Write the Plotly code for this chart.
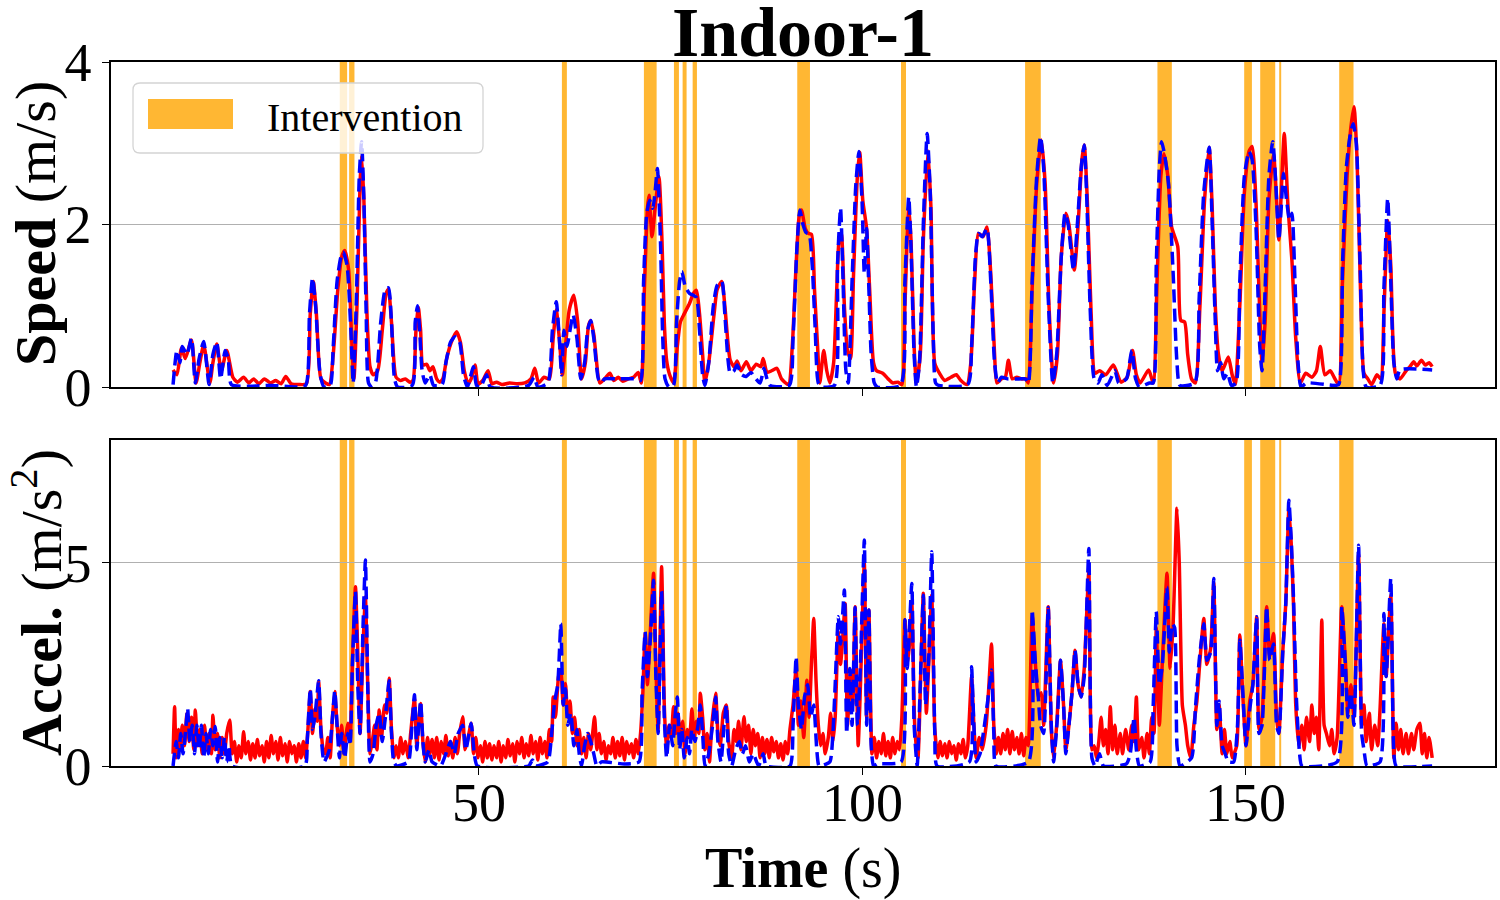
import plotly.graph_objects as go

# ---------------- data ----------------
span_start = [31.85, 33.07, 60.84, 71.54, 75.46, 76.59, 77.90, 91.55, 105.09, 121.28,
              138.55, 149.87, 151.96, 154.44, 162.27]
span_end = [32.81, 33.77, 61.49, 73.20, 76.11, 77.11, 78.46, 93.21, 105.74, 123.33,
            140.43, 150.88, 153.92, 154.70, 164.14]

spd_red_t = [
    10.1, 10.6, 11.2, 11.7, 12.5, 13.1, 13.6, 14.1, 14.9, 15.3,
    15.8, 16.4, 17.1, 17.9, 18.5, 19.3, 20.0, 20.6, 21.3, 22.0,
    22.8, 23.5, 24.2, 24.8, 25.5, 26.5, 27.5, 28.0, 28.4, 28.8,
    29.4, 30.0, 30.5, 31.0, 31.6, 32.1, 32.5, 33.0, 33.4, 33.7,
    34.1, 34.5, 34.7, 35.0, 35.4, 35.8, 36.2, 36.8, 37.4, 37.9,
    38.2, 38.6, 39.2, 39.8, 40.4, 41.0, 41.4, 41.8, 42.1, 42.4,
    42.7, 43.2, 43.6, 44.0, 44.5, 44.9, 45.3, 45.8, 46.4, 47.1,
    47.6, 48.1, 48.6, 49.0, 49.5, 49.9, 50.5, 51.2, 51.7, 52.3,
    53.0, 54.0, 55.0, 56.0, 56.8, 57.3, 57.8, 58.5, 59.2, 59.7,
    60.1, 60.5, 60.9, 61.3, 61.8, 62.4, 62.9, 63.4, 63.9, 64.3,
    64.6, 65.0, 65.8, 66.4, 67.1, 67.6, 68.2, 68.8, 69.5, 70.2,
    70.8, 71.2, 71.6, 72.0, 72.2, 72.6, 73.0, 73.5, 73.9, 74.2,
    74.5, 74.9, 75.4, 75.9, 76.3, 76.8, 77.5, 78.0, 78.4, 78.8,
    79.2, 79.5, 80.0, 80.7, 81.1, 81.7, 82.1, 82.5, 82.8, 83.3,
    83.7, 84.2, 84.9, 85.5, 86.2, 86.8, 87.1, 87.6, 88.2, 88.9,
    89.5, 90.4, 90.9, 91.4, 91.8, 92.1, 92.6, 93.0, 93.4, 93.8,
    94.2, 94.5, 95.0, 95.4, 95.8, 96.3, 96.7, 97.0, 97.3, 97.7,
    98.1, 98.5, 98.9, 99.4, 99.7, 100.1, 100.6, 101.0, 101.5, 101.9,
    102.7, 103.4, 104.0, 104.7, 105.2, 105.6, 106.1, 106.4, 106.8, 107.1,
    107.6, 108.0, 108.6, 109.0, 109.5, 110.1, 110.8, 111.6, 112.3, 112.9,
    113.7, 114.2, 114.7, 115.2, 115.8, 116.3, 116.8, 117.3, 117.6, 118.2,
    118.7, 119.1, 119.6, 120.2, 120.8, 121.4, 121.7, 122.2, 122.8, 123.4,
    123.9, 124.4, 125.0, 125.5, 126.0, 126.6, 127.0, 127.7, 128.2, 128.7,
    129.0, 129.4, 129.9, 130.4, 131.0, 131.8, 132.8, 133.8, 134.6, 135.3,
    135.8, 136.3, 137.4, 138.0, 138.5, 139.0, 139.4, 139.9, 140.4, 141.2,
    141.6, 142.1, 142.5, 143.0, 143.5, 144.1, 144.7, 145.3, 145.7, 146.1,
    146.5, 147.0, 147.8, 148.3, 148.7, 149.3, 149.9, 150.5, 150.9, 151.4,
    151.8, 152.2, 152.6, 153.1, 153.7, 154.1, 154.4, 154.8, 155.1, 155.6,
    156.1, 156.6, 157.2, 157.9, 158.7, 159.3, 159.8, 160.4, 161.1, 161.6,
    162.2, 162.7, 163.3, 163.8, 164.2, 164.6, 165.1, 165.5, 166.0, 166.5,
    167.2, 167.7, 168.1, 168.6, 169.0, 169.6, 170.2, 171.0, 171.5, 172.0,
    172.4, 173.0, 173.5, 174.0, 174.4]
spd_red_v = [
    0.21, 0.15, 0.48, 0.35, 0.58, 0.05, 0.30, 0.52, 0.05, 0.30,
    0.53, 0.20, 0.45, 0.12, 0.06, 0.12, 0.05, 0.10, 0.04, 0.10,
    0.05, 0.08, 0.04, 0.13, 0.04, 0.03, 0.04, 0.90, 1.30, 0.90,
    0.10, 0.05, 0.03, 0.40, 1.20, 1.60, 1.68, 1.45, 0.60, 0.10,
    1.00, 2.50, 2.85, 2.30, 0.90, 0.25, 0.15, 0.20, 0.70, 1.15,
    1.20, 0.80, 0.12, 0.08, 0.10, 0.06, 0.08, 0.70, 0.98, 0.70,
    0.27, 0.28, 0.20, 0.25, 0.10, 0.06, 0.10, 0.35, 0.55, 0.68,
    0.55, 0.20, 0.04, 0.10, 0.27, 0.04, 0.08, 0.20, 0.04, 0.06,
    0.03, 0.05, 0.04, 0.05, 0.10, 0.23, 0.05, 0.12, 0.10, 0.60,
    0.95, 0.60, 0.15, 0.50, 0.95, 1.13, 0.80, 0.10, 0.30, 0.75,
    0.82, 0.65, 0.05, 0.10, 0.17, 0.08, 0.12, 0.07, 0.10, 0.12,
    0.18, 0.05, 1.20, 2.20, 2.36, 1.85, 2.20, 2.59, 1.80, 0.80,
    0.33, 0.15, 0.05, 0.50, 0.80, 0.90, 1.03, 1.15, 1.19, 0.90,
    0.40, 0.05, 0.30, 0.90, 1.20, 1.30, 1.00, 0.55, 0.33, 0.25,
    0.32, 0.20, 0.31, 0.20, 0.28, 0.25, 0.35, 0.18, 0.20, 0.23,
    0.10, 0.03, 0.50, 1.50, 2.10, 2.18, 1.95, 1.89, 1.88, 1.20,
    0.50, 0.05, 0.45, 0.20, 0.05, 0.30, 1.20, 1.80, 1.89, 1.00,
    0.45, 0.35, 1.40, 2.60, 2.89, 2.30, 1.95, 1.20, 0.30, 0.20,
    0.17, 0.10, 0.05, 0.06, 0.03, 1.00, 2.22, 1.80, 0.50, 0.05,
    0.40, 1.80, 2.91, 2.20, 0.29, 0.17, 0.08, 0.12, 0.15, 0.08,
    0.03, 0.30, 1.30, 1.89, 1.85, 1.97, 1.40, 0.40, 0.05, 0.10,
    0.12, 0.33, 0.10, 0.12, 0.10, 0.10, 0.05, 1.20, 2.50, 3.04,
    2.50, 1.00, 0.05, 0.40, 1.60, 2.14, 2.00, 1.44, 2.00, 2.80,
    2.98, 2.30, 0.90, 0.17, 0.20, 0.15, 0.27, 0.06, 0.12, 0.45,
    0.15, 0.05, 0.21, 0.05, 1.30, 2.60, 2.87, 2.60, 1.97, 1.73,
    0.82, 0.80, 0.40, 0.10, 0.05, 1.00, 2.30, 2.95, 2.20, 1.00,
    0.41, 0.20, 0.37, 0.15, 0.03, 1.00, 2.40, 2.90, 2.96, 2.30,
    1.20, 0.30, 0.80, 2.30, 2.87, 2.30, 1.81, 2.60, 3.12, 2.20,
    1.56, 0.60, 0.05, 0.17, 0.12, 0.20, 0.50, 0.15, 0.20, 0.12,
    0.03, 1.30, 2.60, 3.20, 3.45, 2.80, 1.00, 0.17, 0.10, 0.03,
    0.15, 0.10, 0.90, 2.05, 1.50, 0.17, 0.10, 0.20, 0.25, 0.31,
    0.26, 0.33, 0.27, 0.30, 0.25]

spd_blue_t = [
    10.1, 10.6, 11.0, 11.3, 11.9, 12.5, 13.0, 13.5, 14.1, 14.8,
    15.3, 15.8, 16.3, 16.9, 17.3, 17.7, 20.0, 23.0, 26.0, 27.4,
    27.9, 28.3, 28.7, 29.3, 29.8, 30.6, 31.0, 31.5, 32.0, 32.3,
    32.8, 33.3, 33.6, 34.0, 34.4, 34.7, 35.0, 35.3, 35.6, 36.0,
    36.5, 37.2, 37.8, 38.2, 38.6, 39.0, 39.4, 41.3, 41.7, 42.0,
    42.3, 42.6, 43.0, 43.6, 44.1, 45.2, 45.7, 46.3, 46.9, 47.5,
    48.0, 48.5, 49.3, 49.7, 50.2, 51.0, 51.5, 56.5, 57.2, 57.7,
    59.0, 59.6, 60.1, 60.5, 60.8, 61.1, 61.5, 61.9, 62.3, 62.8,
    63.3, 63.8, 64.2, 64.6, 65.0, 65.6, 66.0, 66.4, 68.0, 70.5,
    71.1, 71.5, 71.9, 72.3, 72.7, 73.0, 73.3, 73.7, 74.0, 74.3,
    74.8, 75.4, 75.8, 76.2, 76.5, 76.9, 77.5, 78.0, 78.4, 78.8,
    79.2, 79.5, 80.0, 80.6, 81.1, 81.7, 82.1, 82.5, 82.8, 83.3,
    83.7, 84.3, 84.9, 85.5, 86.0, 86.7, 87.2, 87.6, 88.0, 90.5,
    91.0, 91.5, 91.9, 92.3, 92.7, 93.1, 93.5, 93.9, 94.3, 94.8,
    96.4, 96.8, 97.2, 97.5, 97.9, 98.2, 98.7, 99.2, 99.6, 100.0,
    100.3, 100.6, 100.9, 101.2, 101.6, 102.0, 105.0, 105.6, 106.1, 106.4,
    106.8, 107.1, 107.5, 108.0, 108.5, 108.9, 109.3, 109.6, 110.0, 113.8,
    114.3, 114.8, 115.2, 115.7, 116.3, 116.8, 117.3, 117.7, 118.2, 119.0,
    120.5, 121.3, 121.7, 122.2, 122.8, 123.3, 123.7, 124.3, 124.9, 125.4,
    126.0, 126.5, 126.9, 127.6, 128.1, 128.6, 129.0, 129.3, 129.8, 130.3,
    130.8, 131.3, 132.0, 133.0, 133.5, 134.5, 135.2, 135.7, 136.2, 137.5,
    138.0, 138.4, 138.8, 139.1, 139.5, 140.0, 140.6, 141.1, 141.5, 143.4,
    144.0, 144.6, 145.3, 145.7, 146.1, 146.4, 146.8, 147.2, 147.7, 148.2,
    148.8, 149.3, 149.9, 150.5, 150.9, 151.4, 151.9, 152.2, 152.6, 153.1,
    153.6, 154.0, 154.4, 154.7, 155.0, 155.4, 155.8, 156.1, 156.5, 156.9,
    157.3, 158.0, 161.5, 162.2, 162.7, 163.2, 163.7, 164.1, 164.5, 165.0,
    165.4, 165.8, 167.6, 168.1, 168.6, 169.0, 169.4, 169.8, 170.2, 174.4]
spd_blue_v = [
    0.03, 0.45, 0.30, 0.50, 0.40, 0.60, 0.05, 0.35, 0.56, 0.03,
    0.40, 0.55, 0.10, 0.45, 0.35, 0.03, 0.01, 0.02, 0.00, 0.02,
    0.90, 1.34, 1.00, 0.15, 0.00, 0.02, 0.50, 1.30, 1.60, 1.66,
    1.50, 0.70, 0.05, 1.00, 2.60, 3.02, 2.30, 0.90, 0.05, 0.00,
    0.05, 0.80, 1.20, 1.22, 0.80, 0.10, 0.00, 0.02, 0.80, 1.00,
    0.65, 0.20, 0.05, 0.15, 0.02, 0.03, 0.30, 0.55, 0.62, 0.55,
    0.15, 0.00, 0.25, 0.02, 0.00, 0.15, 0.00, 0.02, 0.12, 0.00,
    0.05, 0.70, 1.05, 0.60, 0.15, 0.70, 0.50, 0.70, 0.89, 0.60,
    0.10, 0.30, 0.70, 0.82, 0.60, 0.10, 0.05, 0.10, 0.10, 0.10,
    0.08, 1.30, 2.13, 2.30, 2.20, 2.40, 2.69, 1.80, 0.60, 0.10,
    0.00, 0.02, 0.80, 1.30, 1.42, 1.25, 1.15, 1.13, 1.10, 0.70,
    0.15, 0.02, 0.30, 1.00, 1.25, 1.30, 0.90, 0.35, 0.17, 0.20,
    0.27, 0.15, 0.13, 0.18, 0.12, 0.05, 0.23, 0.10, 0.02, 0.02,
    0.60, 1.70, 2.18, 2.00, 1.90, 1.88, 1.50, 0.70, 0.05, 0.00,
    0.02, 1.50, 2.20, 1.40, 0.20, 0.05, 1.30, 2.50, 2.90, 2.30,
    1.40, 1.95, 1.20, 0.40, 0.05, 0.00, 0.02, 1.30, 2.34, 1.70,
    0.40, 0.00, 0.30, 2.00, 3.12, 2.40, 0.60, 0.05, 0.02, 0.03,
    0.50, 1.60, 1.89, 1.85, 1.95, 1.30, 0.30, 0.05, 0.12, 0.10,
    0.10, 0.10, 0.05, 1.30, 2.60, 3.08, 2.70, 1.10, 0.05, 0.40,
    1.60, 2.14, 2.00, 1.44, 2.00, 2.70, 2.98, 2.40, 0.90, 0.10,
    0.05, 0.15, 0.02, 0.20, 0.05, 0.10, 0.45, 0.10, 0.00, 0.05,
    0.05, 1.50, 2.70, 3.02, 2.85, 2.50, 1.40, 0.30, 0.02, 0.05,
    1.10, 2.40, 2.95, 2.00, 0.80, 0.20, 0.30, 0.10, 0.17, 0.02,
    0.05, 1.30, 2.60, 2.90, 2.80, 2.00, 0.50, 0.20, 1.20, 2.60,
    3.02, 2.50, 1.81, 2.20, 2.63, 2.30, 2.05, 2.14, 1.30, 0.30,
    0.00, 0.05, 0.02, 0.03, 1.50, 2.70, 3.10, 3.24, 3.00, 1.50,
    0.20, 0.00, 0.02, 1.20, 2.32, 1.30, 0.30, 0.10, 0.21, 0.21]

acc_red_t = [
    10.1, 10.3, 10.5, 10.8, 11.0, 11.3, 11.6, 11.9, 12.2, 12.5,
    12.8, 13.0, 13.3, 13.6, 13.9, 14.2, 14.5, 14.8, 15.1, 15.3,
    15.6, 15.9, 16.2, 16.5, 16.8, 17.1, 17.5, 17.8, 18.1, 18.4,
    18.7, 19.0, 19.3, 19.6, 19.9, 20.2, 20.5, 20.8, 21.1, 21.4,
    21.7, 22.0, 22.3, 22.6, 22.9, 23.2, 23.5, 23.8, 24.1, 24.4,
    24.7, 25.0, 25.3, 25.6, 25.9, 26.2, 26.5, 26.8, 27.1, 27.4,
    27.7, 28.0, 28.3, 28.6, 28.9, 29.1, 29.4, 29.7, 30.0, 30.3,
    30.6, 30.9, 31.2, 31.5, 31.8, 32.1, 32.4, 32.7, 32.9, 33.2,
    33.5, 33.9, 34.2, 34.5, 34.9, 35.2, 35.5, 35.8, 36.1, 36.4,
    36.7, 37.0, 37.3, 37.7, 38.0, 38.3, 38.6, 38.9, 39.2, 39.5,
    39.8, 40.1, 40.4, 40.8, 41.1, 41.6, 41.9, 42.2, 42.4, 42.7,
    43.0, 43.3, 43.6, 43.9, 44.2, 44.5, 44.8, 45.1, 45.4, 45.7,
    46.0, 46.3, 46.6, 46.9, 47.2, 47.5, 47.9, 48.2, 48.5, 49.0,
    49.3, 49.6, 49.9, 50.2, 50.5, 50.8, 51.1, 51.4, 51.7, 52.0,
    52.3, 52.6, 52.9, 53.2, 53.5, 53.8, 54.1, 54.4, 54.7, 55.0,
    55.3, 55.6, 55.9, 56.2, 56.5, 56.8, 57.1, 57.4, 57.7, 58.0,
    58.3, 58.6, 58.9, 59.2, 59.5, 59.7, 60.0, 60.4, 60.7, 61.0,
    61.3, 61.6, 61.9, 62.2, 62.5, 62.8, 63.1, 63.4, 63.7, 64.0,
    64.3, 64.6, 65.1, 65.4, 65.7, 66.0, 66.3, 66.6, 66.9, 67.2,
    67.5, 67.8, 68.1, 68.4, 68.7, 69.0, 69.3, 69.6, 69.9, 70.2,
    70.5, 70.8, 71.1, 71.4, 71.7, 72.0, 72.3, 72.8, 73.1, 73.4,
    73.85, 74.2, 74.5, 74.8, 75.1, 75.4, 75.7, 76.0, 76.3, 76.6,
    76.9, 77.2, 77.5, 77.8, 78.1, 78.4, 78.7, 78.9, 79.2, 79.5,
    79.8, 80.1, 80.4, 80.9, 81.2, 81.5, 81.9, 82.3, 82.6, 83.0,
    83.3, 83.6, 83.9, 84.2, 84.6, 84.9, 85.2, 85.5, 85.8, 86.1,
    86.4, 86.7, 87.0, 87.3, 87.6, 87.9, 88.2, 88.5, 88.8, 89.1,
    89.4, 89.7, 90.0, 90.3, 90.6, 91.0, 91.4, 91.7, 92.0, 92.4,
    92.8, 93.1, 93.4, 93.7, 94.0, 94.3, 94.6, 94.9, 95.2, 95.6,
    95.9, 96.2, 96.5, 96.9, 97.2, 97.5, 97.8, 98.1, 98.5, 98.8,
    99.1, 99.5, 99.8, 100.3, 100.6, 100.9, 101.3, 101.6, 101.9, 102.2,
    102.5, 102.8, 103.1, 103.4, 103.7, 104.0, 104.3, 104.6, 104.9, 105.2,
    105.6, 105.9, 106.2, 106.5, 106.9, 107.3, 107.7, 108.0, 108.4, 108.7,
    109.1, 109.5, 109.9, 110.2, 110.5, 110.8, 111.1, 111.4, 111.7, 112.0,
    112.3, 112.6, 112.9, 113.2, 113.5, 113.8, 114.3, 114.6, 114.9, 115.3,
    115.7, 116.2, 116.5, 116.9, 117.2, 117.5, 117.8, 118.1, 118.4, 118.7,
    119.0, 119.3, 119.6, 119.9, 120.2, 120.5, 120.8, 121.1, 121.4, 121.7,
    122.2, 122.6, 123.0, 123.4, 123.7, 124.3, 124.7, 125.0, 125.4, 125.9,
    126.3, 126.6, 127.0, 127.4, 127.8, 128.2, 128.6, 129.0, 129.6, 130.0,
    130.3, 130.6, 130.9, 131.2, 131.5, 131.8, 132.1, 132.4, 132.7, 133.0,
    133.3, 133.7, 134.0, 134.4, 134.8, 135.2, 135.5, 135.8, 136.1, 136.5,
    136.8, 137.2, 137.5, 137.8, 138.1, 138.4, 138.8, 139.2, 139.8, 140.2,
    140.6, 141.1, 141.4, 141.8, 142.2, 142.5, 142.9, 143.3, 143.7, 144.1,
    144.6, 145.0, 145.5, 145.9, 146.3, 146.6, 147.0, 147.3, 147.6, 148.0,
    148.3, 148.9, 149.3, 149.7, 150.1, 150.6, 151.0, 151.5, 151.8, 152.2,
    152.8, 153.2, 153.7, 154.1, 154.4, 154.9, 155.3, 155.7, 156.0, 156.3,
    156.6, 157.0, 157.4, 157.7, 158.0, 158.4, 158.7, 159.0, 159.3, 159.6,
    160.0, 160.3, 160.6, 161.0, 161.3, 161.6, 162.0, 162.6, 163.1, 163.4,
    163.8, 164.2, 164.8, 165.2, 165.5, 165.8, 166.2, 166.5, 166.9, 167.3,
    167.6, 168.1, 168.4, 169.0, 169.4, 169.7, 170.0, 170.3, 170.6, 171.0,
    171.3, 171.7, 172.0, 172.4, 172.8, 173.1, 173.4, 173.7, 174.0, 174.4]
acc_red_v = [
    0.30, 1.46, 0.20, 0.90, 0.40, 1.00, 0.50, 1.30, 0.60, 1.20,
    0.40, 1.38, 0.50, 0.90, 0.30, 1.00, 0.40, 0.80, 0.30, 1.25,
    0.40, 0.80, 0.20, 0.70, 0.30, 0.80, 1.13, 0.30, 0.60, 0.10,
    0.50, 0.20, 0.84, 0.30, 0.60, 0.15, 0.55, 0.20, 0.65, 0.25,
    0.50, 0.10, 0.60, 0.20, 0.75, 0.30, 0.60, 0.15, 0.70, 0.25,
    0.55, 0.10, 0.60, 0.30, 0.50, 0.10, 0.55, 0.20, 0.60, 0.20,
    0.90, 1.83, 0.80, 1.40, 1.10, 2.07, 0.90, 0.40, 0.30, 0.70,
    0.20, 1.20, 1.83, 1.00, 0.50, 1.00, 0.30, 0.80, 1.05, 0.60,
    2.50, 4.41, 2.80, 0.80, 3.00, 4.16, 2.00, 0.30, 0.60, 1.00,
    0.40, 1.38, 0.70, 1.50, 1.30, 2.16, 0.90, 0.20, 0.50, 0.20,
    0.70, 0.30, 0.60, 0.20, 0.80, 1.66, 0.50, 1.20, 1.54, 0.60,
    0.10, 0.70, 0.30, 0.65, 0.20, 0.70, 0.15, 0.60, 0.30, 0.75,
    0.25, 0.60, 0.20, 0.70, 0.30, 0.80, 1.21, 0.40, 0.60, 1.05,
    0.30, 0.70, 0.20, 0.50, 0.10, 0.60, 0.20, 0.55, 0.15, 0.50,
    0.20, 0.60, 0.10, 0.50, 0.20, 0.65, 0.25, 0.55, 0.10, 0.60,
    0.30, 0.70, 0.20, 0.55, 0.25, 0.75, 0.30, 0.60, 0.15, 0.70,
    0.30, 0.60, 0.20, 0.90, 0.60, 1.70, 1.20, 2.20, 2.36, 1.50,
    2.03, 1.20, 1.60, 0.80, 1.20, 0.50, 0.90, 0.30, 0.70, 0.20,
    0.80, 0.40, 1.21, 0.40, 0.80, 0.30, 0.60, 0.15, 0.50, 0.30,
    0.70, 0.20, 0.60, 0.25, 0.70, 0.15, 0.60, 0.30, 0.55, 0.20,
    0.65, 0.30, 0.80, 1.80, 3.26, 2.00, 3.00, 4.74, 2.50, 0.90,
    4.90, 1.50, 0.30, 1.00, 0.70, 1.46, 0.80, 1.30, 0.60, 1.10,
    0.30, 0.90, 0.70, 1.40, 0.70, 1.10, 0.80, 1.79, 1.20, 0.40,
    0.80, 0.10, 1.00, 1.79, 0.80, 0.50, 1.30, 1.50, 0.60, 0.20,
    0.90, 0.60, 1.10, 0.40, 1.21, 0.60, 1.00, 0.30, 0.90, 0.50,
    0.80, 0.20, 0.70, 0.30, 0.65, 0.20, 0.70, 0.35, 0.60, 0.20,
    0.55, 0.15, 0.60, 0.30, 0.90, 1.50, 2.40, 1.00, 1.60, 0.70,
    2.11, 1.20, 2.50, 3.63, 2.10, 1.00, 0.50, 0.80, 0.30, 0.70,
    1.30, 0.60, 1.20, 3.30, 2.50, 3.20, 4.00, 1.00, 2.35, 1.50,
    3.92, 0.50, 2.00, 5.00, 1.20, 3.84, 0.30, 0.70, 0.20, 0.60,
    0.30, 0.80, 0.25, 0.60, 0.20, 0.70, 0.30, 0.60, 0.40, 1.20,
    3.60, 2.50, 3.00, 4.00, 0.90, 0.20, 2.50, 4.25, 1.30, 2.50,
    4.20, 0.90, 0.20, 0.60, 0.25, 0.55, 0.20, 0.60, 0.30, 0.50,
    0.15, 0.55, 0.30, 0.65, 0.20, 0.50, 2.20, 1.00, 0.20, 0.70,
    0.40, 1.00, 1.80, 3.00, 1.00, 0.30, 0.70, 0.30, 0.80, 0.40,
    0.90, 0.30, 0.85, 0.40, 0.70, 0.30, 0.80, 0.25, 0.70, 0.50,
    3.70, 2.60, 1.70, 1.80, 1.00, 3.92, 0.90, 0.20, 1.00, 2.60,
    1.50, 0.40, 1.00, 1.80, 2.85, 2.00, 1.70, 2.40, 4.80, 0.40,
    0.50, 0.20, 0.60, 1.20, 0.50, 0.90, 0.30, 1.46, 0.40, 1.00,
    0.30, 0.80, 0.30, 0.90, 0.40, 1.00, 0.60, 1.70, 0.40, 0.70,
    0.20, 0.80, 0.30, 1.20, 0.80, 3.40, 1.00, 2.60, 4.74, 2.40,
    3.50, 6.34, 5.00, 1.50, 1.00, 0.50, 0.20, 1.00, 1.60, 2.60,
    3.63, 2.50, 2.90, 4.50, 0.90, 1.50, 0.30, 0.90, 0.30, 0.60,
    0.20, 0.50, 3.22, 1.70, 0.50, 1.60, 2.00, 3.67, 0.90, 1.20,
    3.92, 2.70, 3.26, 1.20, 0.80, 2.80, 4.00, 6.30, 5.50, 4.00,
    1.50, 0.50, 1.00, 0.40, 1.20, 0.60, 1.50, 0.80, 1.20, 0.40,
    3.59, 1.00, 0.80, 0.50, 0.90, 0.30, 0.70, 3.92, 2.50, 1.30,
    2.00, 1.20, 5.20, 1.00, 1.50, 0.60, 1.30, 0.40, 1.00, 0.50,
    1.40, 3.50, 2.20, 4.20, 0.20, 1.05, 0.40, 0.90, 0.30, 0.80,
    0.30, 0.80, 0.40, 0.90, 1.05, 0.30, 0.80, 0.20, 0.70, 0.20]

acc_blue_t = [
    10.1, 10.5, 10.8, 11.1, 11.4, 11.8, 12.0, 12.3, 12.6, 12.9,
    13.2, 13.5, 13.8, 14.1, 14.4, 14.7, 15.0, 15.3, 15.6, 15.9,
    16.2, 16.5, 16.8, 17.1, 17.4, 17.8, 27.3, 27.6, 28.0, 28.3,
    28.6, 29.1, 29.4, 29.8, 30.5, 30.9, 31.2, 31.5, 31.8, 32.1,
    32.5, 32.9, 33.2, 33.5, 33.9, 34.2, 34.5, 34.9, 35.2, 35.5,
    35.8, 36.2, 36.6, 37.0, 37.4, 37.8, 38.3, 38.6, 38.9, 39.3,
    40.8, 41.2, 41.6, 41.9, 42.4, 42.7, 43.0, 43.5, 43.9, 45.0,
    45.7, 46.3, 46.8, 47.3, 47.9, 48.3, 49.0, 49.4, 49.8, 56.5,
    57.0, 57.4, 59.0, 59.5, 59.9, 60.3, 60.7, 61.0, 61.3, 61.6,
    62.0, 62.4, 62.8, 63.1, 63.4, 63.8, 64.2, 64.6, 65.0, 65.4,
    66.0, 69.0, 70.9, 71.3, 71.7, 72.0, 72.4, 72.8, 73.1, 73.4,
    73.85, 74.2, 74.5, 74.9, 75.3, 75.6, 75.9, 76.2, 76.5, 76.8,
    77.2, 77.5, 77.8, 78.2, 78.6, 78.9, 79.2, 79.5, 80.0, 80.5,
    80.9, 81.2, 81.6, 82.0, 82.3, 82.6, 83.0, 83.5, 84.0, 84.4,
    84.8, 85.3, 85.8, 86.5, 87.1, 87.5, 90.6, 91.0, 91.4, 91.7,
    92.1, 92.5, 92.9, 93.3, 93.7, 94.1, 94.4, 95.8, 96.2, 96.5,
    96.9, 97.2, 97.7, 98.0, 98.4, 98.7, 99.1, 99.4, 99.8, 100.3,
    100.6, 100.9, 101.2, 101.5, 102.0, 105.1, 105.6, 105.9, 106.5, 106.8,
    107.2, 107.6, 108.0, 108.3, 108.7, 109.1, 109.5, 109.8, 114.0, 114.3,
    114.6, 114.9, 115.4, 115.9, 116.4, 116.9, 117.2, 117.5, 121.7, 122.2,
    122.6, 123.0, 123.3, 123.7, 124.3, 124.7, 125.0, 125.5, 125.9, 126.3,
    126.6, 127.0, 127.4, 127.8, 128.2, 128.6, 129.0, 129.6, 130.0, 130.4,
    131.0, 131.5, 134.5, 135.0, 135.5, 135.8, 136.2, 137.6, 138.0, 138.4,
    138.8, 139.2, 139.8, 140.1, 140.5, 140.8, 141.1, 141.5, 143.0, 143.5,
    144.0, 144.6, 145.0, 145.5, 145.9, 146.3, 146.6, 147.0, 147.4, 147.8,
    148.5, 149.0, 149.3, 149.7, 150.1, 150.6, 151.0, 151.5, 151.8, 152.2,
    152.8, 153.2, 153.7, 154.1, 154.4, 154.9, 155.3, 155.7, 156.0, 156.3,
    156.7, 157.1, 157.4, 162.0, 162.6, 163.1, 163.4, 163.8, 164.2, 164.8,
    165.2, 165.5, 165.9, 167.6, 168.1, 168.4, 169.0, 169.4, 169.7, 174.4]
acc_blue_v = [
    0.00, 0.60, 0.20, 0.80, 0.30, 1.00, 1.42, 0.60, 1.00, 0.30,
    1.00, 0.40, 1.00, 0.20, 0.80, 0.30, 0.90, 0.50, 0.97, 0.10,
    0.70, 0.20, 0.70, 0.10, 0.50, 0.00, 0.00, 0.60, 1.90, 0.90,
    1.20, 2.10, 0.80, 0.10, 0.40, 1.20, 1.85, 1.00, 0.20, 0.80,
    0.20, 0.80, 0.50, 2.50, 4.30, 2.00, 0.80, 3.50, 5.07, 2.00,
    0.10, 0.30, 1.00, 1.30, 0.60, 1.20, 2.10, 0.80, 0.10, 0.00,
    0.10, 0.80, 1.75, 0.40, 1.60, 0.60, 0.10, 0.40, 0.10, 0.00,
    0.30, 0.60, 0.30, 0.80, 1.00, 0.40, 1.05, 0.30, 0.00, 0.00,
    0.15, 0.00, 0.10, 0.80, 1.60, 2.00, 3.50, 1.50, 1.90, 1.00,
    1.30, 0.50, 0.90, 0.30, 0.00, 0.50, 0.80, 0.60, 0.30, 0.00,
    0.10, 0.05, 0.10, 1.80, 3.30, 2.20, 3.20, 4.57, 2.20, 0.80,
    4.30, 1.20, 0.20, 1.00, 0.50, 1.20, 1.70, 0.40, 0.90, 0.20,
    0.70, 0.30, 0.90, 0.60, 1.00, 1.50, 0.80, 0.00, 0.30, 1.00,
    1.70, 0.60, 0.10, 1.00, 1.50, 0.30, 0.00, 0.40, 0.60, 0.30,
    0.50, 0.10, 0.30, 0.00, 0.30, 0.00, 0.00, 1.00, 2.69, 1.50,
    0.90, 1.70, 2.00, 1.20, 1.50, 0.40, 0.00, 0.10, 0.80, 2.00,
    3.67, 3.00, 4.33, 0.80, 2.40, 1.00, 3.90, 1.00, 2.50, 5.56,
    1.00, 3.84, 0.50, 0.00, 0.05, 0.10, 3.60, 2.40, 4.49, 1.00,
    0.00, 2.00, 4.20, 1.50, 2.60, 5.27, 0.80, 0.00, 0.10, 2.44,
    1.00, 0.10, 0.30, 0.90, 1.60, 2.36, 0.80, 0.00, 0.10, 3.84,
    2.60, 1.70, 1.00, 0.80, 3.90, 1.00, 0.10, 1.20, 2.60, 1.50,
    0.30, 1.00, 1.80, 2.85, 2.00, 1.70, 2.20, 5.35, 0.20, 0.00,
    0.30, 0.00, 0.05, 0.30, 1.20, 0.40, 0.00, 0.10, 1.50, 3.80,
    2.00, 2.50, 4.40, 2.80, 3.50, 3.40, 0.50, 0.00, 0.20, 1.40,
    2.60, 3.50, 2.60, 2.80, 4.61, 1.00, 1.60, 0.50, 0.30, 0.10,
    0.10, 1.00, 3.10, 1.80, 0.50, 1.40, 2.00, 3.67, 0.80, 1.00,
    3.92, 2.60, 3.00, 1.00, 0.80, 2.80, 4.00, 6.54, 5.60, 4.16,
    1.60, 0.30, 0.00, 0.10, 3.92, 2.40, 1.20, 1.80, 1.00, 5.43,
    0.80, 0.40, 0.00, 0.10, 3.75, 2.20, 4.61, 0.30, 0.00, 0.00]

x_ticks = [50, 100, 150]
speed_ticks = [0, 2, 4]
acc_ticks = [0, 5]

assert len(spd_red_t) == len(spd_red_v)
assert len(spd_blue_t) == len(spd_blue_v)
assert len(acc_red_t) == len(acc_red_v)
assert len(acc_blue_t) == len(acc_blue_v)

# ---------------- style ----------------
FONT = "Liberation Serif"
RED = "#ff0000"
BLUE = "#0000ff"
ORANGE = "rgba(255,165,0,0.8)"
LW = 3.5
DASH = "13px,6px"

# plot-area geometry (px) -> paper coordinates helpers
L, R, T, B = 111, 5, 62, 134
W, H = 1500, 900
PW, PH = W - L - R, H - T - B


def px_x(px):
    return (px - L) / PW


def px_y(py):
    return (H - B - py) / PH


fig = go.Figure()

fig.add_trace(go.Scatter(x=spd_red_t, y=spd_red_v, mode="lines", xaxis="x", yaxis="y",
                         line=dict(color=RED, width=LW, shape="spline", smoothing=0.6),
                         showlegend=False))
fig.add_trace(go.Scatter(x=spd_blue_t, y=spd_blue_v, mode="lines", xaxis="x", yaxis="y",
                         line=dict(color=BLUE, width=LW, dash=DASH, shape="spline", smoothing=0.6),
                         showlegend=False))
fig.add_trace(go.Scatter(x=acc_red_t, y=acc_red_v, mode="lines", xaxis="x2", yaxis="y2",
                         line=dict(color=RED, width=LW, shape="spline", smoothing=0.5),
                         showlegend=False))
fig.add_trace(go.Scatter(x=acc_blue_t, y=acc_blue_v, mode="lines", xaxis="x2", yaxis="y2",
                         line=dict(color=BLUE, width=LW, dash=DASH, shape="spline", smoothing=0.5),
                         showlegend=False))

shapes = []
for s, e in zip(span_start, span_end):
    for xr, yr in (("x", "y domain"), ("x2", "y2 domain")):
        shapes.append(dict(type="rect", xref=xr, yref=yr, x0=s, x1=e, y0=0, y1=1,
                           fillcolor=ORANGE, line=dict(width=0), layer="below"))

# legend box (matplotlib-like, rounded, semi-transparent)
lx0, lx1, ly0, ly1 = px_x(133), px_x(483), px_y(153), px_y(83)
rx, ry = 7 / PW, 7 / PH
path = (f"M {lx0+rx},{ly0} L {lx1-rx},{ly0} Q {lx1},{ly0} {lx1},{ly0+ry} "
        f"L {lx1},{ly1-ry} Q {lx1},{ly1} {lx1-rx},{ly1} L {lx0+rx},{ly1} "
        f"Q {lx0},{ly1} {lx0},{ly1-ry} L {lx0},{ly0+ry} Q {lx0},{ly0} {lx0+rx},{ly0} Z")
shapes.append(dict(type="path", xref="paper", yref="paper", path=path,
                   fillcolor="rgba(255,255,255,0.8)", line=dict(color="#d4d4d4", width=1.3),
                   layer="above"))
shapes.append(dict(type="rect", xref="paper", yref="paper", x0=px_x(148), x1=px_x(233),
                   y0=px_y(129), y1=px_y(99), fillcolor=ORANGE, line=dict(width=0),
                   layer="above"))

annotations = [
    dict(text="Intervention", xref="paper", yref="paper", x=px_x(265), y=px_y(117),
         xanchor="left", yanchor="middle", showarrow=False,
         font=dict(family=FONT, size=40, color="black")),
    dict(text="<b>Indoor-1</b>", xref="paper", yref="paper", x=0.5, y=px_y(33),
         xanchor="center", yanchor="middle", showarrow=False,
         font=dict(family=FONT, size=70, color="black")),
    dict(text="<b>Time</b> (s)", xref="paper", yref="paper", x=0.5, y=px_y(868),
         xanchor="center", yanchor="middle", showarrow=False,
         font=dict(family=FONT, size=56, color="black")),
    dict(text="<b>Speed</b> (m/s)", xref="paper", yref="paper", x=px_x(35), y=px_y(224),
         xanchor="center", yanchor="middle", textangle=-90, showarrow=False,
         font=dict(family=FONT, size=58, color="black")),
    dict(text="<b>Accel.</b> (m/s<sup>2</sup>)", xref="paper", yref="paper", x=px_x(37),
         y=px_y(603), xanchor="center", yanchor="middle", textangle=-90, showarrow=False,
         font=dict(family=FONT, size=58, color="black")),
]
for v in x_ticks:
    annotations.append(dict(text=str(v), xref="x2", yref="paper", x=v, y=px_y(803),
                            xanchor="center", yanchor="middle", showarrow=False,
                            font=dict(family=FONT, size=54, color="black")))

axis_common = dict(showline=True, mirror=True, linecolor="black", linewidth=1.5,
                   ticks="outside", ticklen=7, tickwidth=1.3, tickcolor="black",
                   tickfont=dict(family=FONT, size=54, color="black"))

fig.update_layout(
    width=W, height=H,
    margin=dict(l=L, r=R, t=T, b=B, autoexpand=False),
    paper_bgcolor="white", plot_bgcolor="white",
    font=dict(family=FONT, color="black"),
    shapes=shapes,
    annotations=annotations,
    xaxis=dict(domain=[0, 1], anchor="y", range=[2.0, 182.6], tickvals=x_ticks,
               showticklabels=False, showgrid=False, zeroline=False, **axis_common),
    yaxis=dict(domain=[px_y(387), 1.0], anchor="x", range=[0, 4], tickvals=speed_ticks,
               showgrid=True, gridcolor="#b0b0b0", gridwidth=1.3, zeroline=False,
               ticklabelstandoff=0, **axis_common),
    xaxis2=dict(domain=[0, 1], anchor="y2", range=[2.0, 182.6], tickvals=x_ticks,
                matches="x", showticklabels=False, showgrid=False, zeroline=False,
                **axis_common),
    yaxis2=dict(domain=[0.0, px_y(440)], anchor="x2", range=[0, 8.02], tickvals=acc_ticks,
                showgrid=True, gridcolor="#b0b0b0", gridwidth=1.3, zeroline=False,
                ticklabelstandoff=0, **axis_common),
)

fig.write_html("out.html")
